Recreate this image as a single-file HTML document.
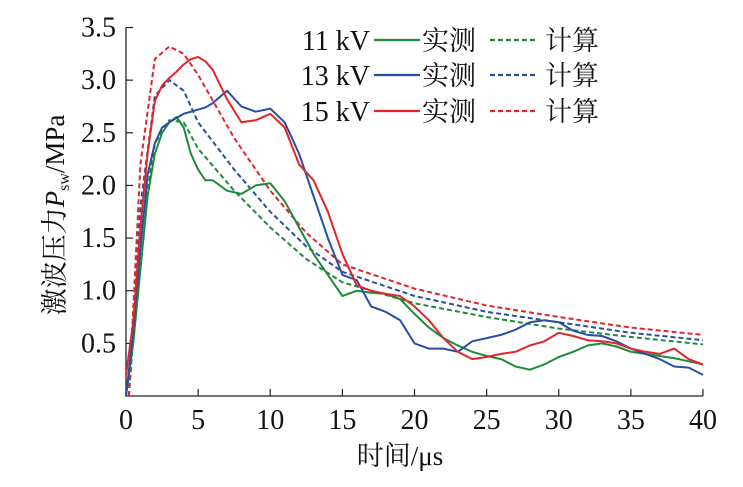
<!DOCTYPE html>
<html><head><meta charset="utf-8"><style>
body{margin:0;background:#fff;}
svg{display:block;font-family:"Liberation Serif","Noto Serif CJK SC",serif;}
</style></head><body>
<svg id="c" width="743" height="487"></svg>
<script>
const xTicks=[0,5,10,15,20,25,30,35,40];
const yTicks=[0.5,1.0,1.5,2.0,2.5,3.0,3.5];
const tMeas=[0,0.5,1,1.5,2,2.5,3,3.5,4,4.5,5,5.5,6,7,8,9,10,11,12,13,14,15,16,17,18,19,20,21,22,23,24,25,26,27,28,29,30,31,32,33,34,35,36,37,38,39,40];
const green=[0,0.5,1.2,1.9,2.3,2.5,2.6,2.65,2.55,2.3,2.15,2.05,2.05,1.95,1.92,2.0,2.02,1.85,1.6,1.35,1.15,0.95,1.0,0.98,0.97,0.92,0.78,0.65,0.55,0.48,0.42,0.38,0.35,0.28,0.25,0.3,0.37,0.42,0.48,0.5,0.47,0.42,0.4,0.38,0.36,0.33,0.3];
const blue=[0,0.6,1.4,2.1,2.4,2.55,2.6,2.64,2.68,2.7,2.72,2.74,2.78,2.9,2.75,2.7,2.73,2.6,2.3,1.9,1.5,1.15,1.1,0.85,0.8,0.72,0.5,0.45,0.45,0.42,0.52,0.55,0.58,0.63,0.7,0.72,0.7,0.62,0.58,0.57,0.52,0.45,0.4,0.35,0.28,0.27,0.2];
const red=[0.2,0.7,1.6,2.3,2.8,2.95,3.02,3.08,3.15,3.2,3.22,3.18,3.1,2.82,2.6,2.62,2.68,2.55,2.2,2.05,1.75,1.35,1.05,1.0,0.97,0.95,0.85,0.72,0.55,0.42,0.35,0.37,0.4,0.42,0.48,0.52,0.6,0.57,0.53,0.52,0.5,0.45,0.42,0.4,0.45,0.35,0.3];
const tCalc=[0.2,1,2,3,4,5,7.5,10,12.5,15,20,25,30,35,40];
const greenCalc=[0,1.5,2.4,2.62,2.6,2.35,1.95,1.6,1.3,1.08,0.88,0.75,0.64,0.56,0.49];
const blueCalc=[0,1.8,2.85,3.0,2.9,2.6,2.15,1.75,1.42,1.18,0.95,0.8,0.7,0.6,0.53];
const redCalc=[0,2.2,3.2,3.32,3.25,3.05,2.45,1.95,1.55,1.25,1.02,0.86,0.75,0.65,0.58];
const X0=126,X1=703,Y0=396,YT=27.5;
const sx=v=>X0+(X1-X0)*v/40, sy=v=>Y0-(Y0-YT)*v/3.5;
const svg=document.getElementById('c'),NS='http://www.w3.org/2000/svg';
function mk(tag,attrs,parent){const e=document.createElementNS(NS,tag);for(const k in attrs)e.setAttribute(k,attrs[k]);(parent||svg).appendChild(e);return e;}
function txt(s,x,y,size,anchor,name){const e=mk('text',{x:x,y:y,'font-size':size,'text-anchor':anchor||'start',fill:'#111'});e.textContent=s;

return e;}
const ax=mk('path',{d:`M${X0},${YT} V${Y0} H${X1}`,stroke:'#222','stroke-width':1.3,fill:'none'});


xTicks.forEach(v=>{const l=mk('line',{x1:sx(v),x2:sx(v),y1:Y0,y2:Y0-7,stroke:'#222','stroke-width':1.2});


txt(String(v),sx(v),Y0+33,28,'middle','x-tick-label');});
yTicks.forEach(v=>{const l=mk('line',{x1:X0,x2:X0+7,y1:sy(v),y2:sy(v),stroke:'#222','stroke-width':1.2});


txt(v.toFixed(1),X0-10,sy(v)+9,28,'end','y-tick-label');});
txt('时间/μs',400,465,27,'middle','x-axis-title');
const yt=mk('text',{transform:'translate(64,215) rotate(-90)','font-size':27,'text-anchor':'middle',fill:'#111'});


yt.innerHTML='激波压力<tspan font-style="italic">P</tspan><tspan font-size="16" dy="5">sw</tspan><tspan dy="-5">/MPa</tspan>';
function line(ts,vs,color,dash,name){const d=ts.map((t,i)=>(i?'L':'M')+sx(t).toFixed(1)+','+sy(vs[i]).toFixed(1)).join(' ');
const p=mk('path',{d:d,stroke:color,'stroke-width':2,fill:'none','stroke-dasharray':dash?'5,3':'none','stroke-linejoin':'round'});

}
const G='#1f8a3c',B='#2a4ea0',R='#e0262b';
line(tCalc,greenCalc,G,true,'calc-11kv');line(tCalc,blueCalc,B,true,'calc-13kv');line(tCalc,redCalc,R,true,'calc-15kv');
line(tMeas,green,G,false,'meas-11kv');line(tMeas,blue,B,false,'meas-13kv');line(tMeas,red,R,false,'meas-15kv');
[['11 kV',G,50],['13 kV',B,85],['15 kV',R,121]].forEach(([lab,c,y])=>{
txt(lab,370,y,28,'end','legend-label');
const a=mk('line',{x1:374,x2:420,y1:y-10,y2:y-10,stroke:c,'stroke-width':2.2});


txt('实测',422,y,27,'start','legend-measured');
const b=mk('line',{x1:490,x2:535,y1:y-10,y2:y-10,stroke:c,'stroke-width':2.2,'stroke-dasharray':'5,3'});


txt('计算',545,y,27,'start','legend-calculated');});
</script>
</body></html>
